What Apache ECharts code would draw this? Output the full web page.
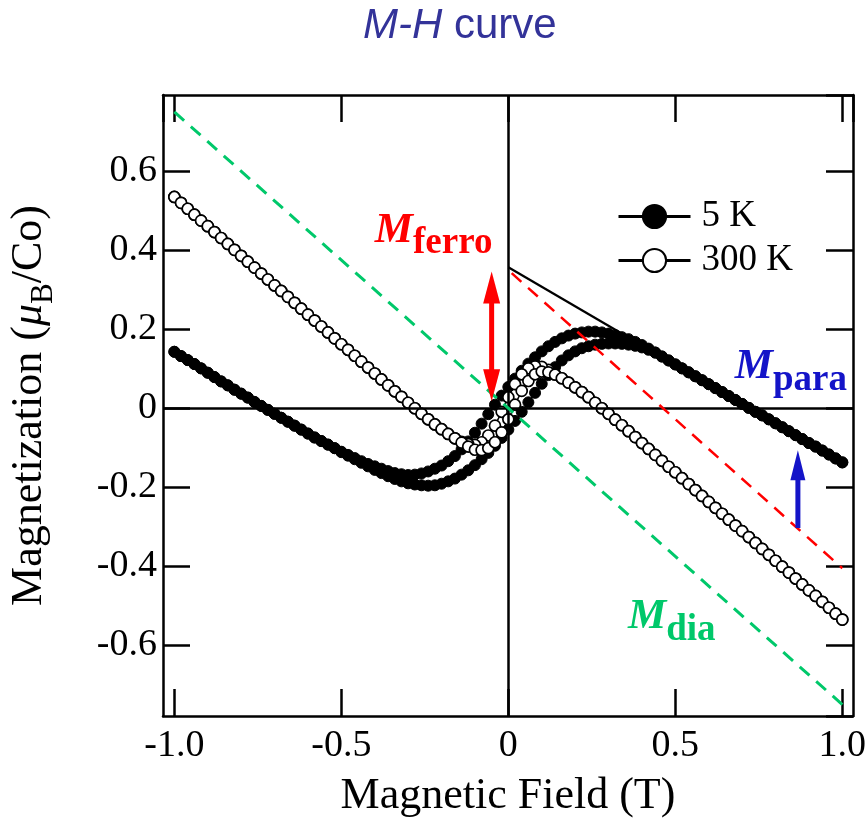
<!DOCTYPE html>
<html>
<head>
<meta charset="utf-8">
<title>M-H curve</title>
<script src="https://cdn.jsdelivr.net/npm/echarts@6/dist/echarts.min.js"></script>
<style>
  html, body { margin: 0; padding: 0; background: #fff; }
  #chart { width: 867px; height: 818px; }
</style>
</head>
<body>
<div id="chart"></div>
<script>
// Magnetic field steps (T), shared by every branch below
const field = [
  -1.00, -0.98, -0.96, -0.94, -0.92, -0.90, -0.88, -0.86, -0.84, -0.82,
  -0.80, -0.78, -0.76, -0.74, -0.72, -0.70, -0.68, -0.66, -0.64, -0.62,
  -0.60, -0.58, -0.56, -0.54, -0.52, -0.50, -0.48, -0.46, -0.44, -0.42,
  -0.40, -0.38, -0.36, -0.34, -0.32, -0.30, -0.28, -0.26, -0.24, -0.22,
  -0.20, -0.18, -0.16, -0.14, -0.12, -0.10, -0.08, -0.06, -0.04, -0.02,
   0.00,  0.02,  0.04,  0.06,  0.08,  0.10,  0.12,  0.14,  0.16,  0.18,
   0.20,  0.22,  0.24,  0.26,  0.28,  0.30,  0.32,  0.34,  0.36,  0.38,
   0.40,  0.42,  0.44,  0.46,  0.48,  0.50,  0.52,  0.54,  0.56,  0.58,
   0.60,  0.62,  0.64,  0.66,  0.68,  0.70,  0.72,  0.74,  0.76,  0.78,
   0.80,  0.82,  0.84,  0.86,  0.88,  0.90,  0.92,  0.94,  0.96,  0.98,
   1.00
];

// 5 K, field sweeping down (+1 T -> -1 T)
const m5Down = [
   0.143,  0.132,  0.122,  0.112,  0.101,  0.090,  0.079,  0.068,  0.058,  0.047,
   0.037,  0.027,  0.016,  0.006, -0.004, -0.014, -0.024, -0.034, -0.044, -0.054,
  -0.064, -0.074, -0.083, -0.092, -0.101, -0.110, -0.118, -0.126, -0.134, -0.141,
  -0.147, -0.153, -0.159, -0.164, -0.167, -0.169, -0.168, -0.165, -0.160, -0.153,
  -0.145, -0.134, -0.121, -0.104, -0.084, -0.062, -0.039, -0.015,  0.009,  0.032,
   0.054,  0.075,  0.095,  0.113,  0.129,  0.144,  0.157,  0.168,  0.177,  0.184,
   0.189,  0.192,  0.194,  0.194,  0.192,  0.189,  0.185,  0.180,  0.175,  0.168,
   0.160,  0.151,  0.141,  0.131,  0.121,  0.111,  0.101,  0.091,  0.081,  0.071,
   0.061,  0.051,  0.041,  0.031,  0.021,  0.011,  0.001, -0.009, -0.018, -0.028,
  -0.038, -0.048, -0.058, -0.068, -0.078, -0.088, -0.097, -0.107, -0.117, -0.127,
  -0.137
];

// 5 K, field sweeping up (-1 T -> +1 T)
const m5Up = [
   0.143,  0.132,  0.122,  0.112,  0.101,  0.090,  0.079,  0.068,  0.058,  0.047,
   0.037,  0.027,  0.016,  0.006, -0.004, -0.014, -0.024, -0.034, -0.044, -0.054,
  -0.064, -0.074, -0.083, -0.092, -0.101, -0.111, -0.120, -0.129, -0.138, -0.147,
  -0.156, -0.164, -0.172, -0.179, -0.185, -0.190, -0.193, -0.195, -0.196, -0.195,
  -0.191, -0.185, -0.178, -0.168, -0.157, -0.144, -0.129, -0.113, -0.095, -0.075,
  -0.054, -0.032, -0.009,  0.015,  0.039,  0.062,  0.084,  0.104,  0.121,  0.134,
   0.144,  0.152,  0.157,  0.161,  0.163,  0.164,  0.164,  0.163,  0.161,  0.158,
   0.154,  0.148,  0.141,  0.131,  0.121,  0.111,  0.101,  0.091,  0.081,  0.071,
   0.061,  0.051,  0.041,  0.031,  0.021,  0.011,  0.001, -0.009, -0.018, -0.028,
  -0.038, -0.048, -0.058, -0.068, -0.078, -0.088, -0.097, -0.107, -0.117, -0.127,
  -0.137
];

// 300 K, field sweeping down
const m300Down = [
   0.535,  0.520,  0.505,  0.490,  0.475,  0.461,  0.446,  0.431,  0.416,  0.401,
   0.386,  0.371,  0.356,  0.341,  0.326,  0.311,  0.297,  0.282,  0.267,  0.252,
   0.237,  0.222,  0.207,  0.192,  0.177,  0.162,  0.148,  0.133,  0.118,  0.103,
   0.088,  0.073,  0.058,  0.043,  0.029,  0.014,  0.000, -0.014, -0.028, -0.041,
  -0.053, -0.065, -0.076, -0.085, -0.091, -0.093, -0.086, -0.069, -0.044, -0.009,
   0.028,  0.061,  0.086,  0.101,  0.106,  0.105,  0.097,  0.087,  0.076,  0.065,
   0.053,  0.041,  0.028,  0.014,  0.000, -0.014, -0.029, -0.043, -0.058, -0.073,
  -0.088, -0.103, -0.118, -0.133, -0.148, -0.162, -0.177, -0.192, -0.207, -0.222,
  -0.237, -0.252, -0.267, -0.282, -0.297, -0.311, -0.326, -0.341, -0.356, -0.371,
  -0.386, -0.401, -0.416, -0.431, -0.446, -0.461, -0.475, -0.490, -0.505, -0.520,
  -0.535
];

// 300 K, field sweeping up
const m300Up = [
   0.535,  0.520,  0.505,  0.490,  0.475,  0.461,  0.446,  0.431,  0.416,  0.401,
   0.386,  0.371,  0.356,  0.341,  0.326,  0.311,  0.297,  0.282,  0.267,  0.252,
   0.237,  0.222,  0.207,  0.192,  0.177,  0.162,  0.148,  0.133,  0.118,  0.103,
   0.088,  0.073,  0.058,  0.043,  0.029,  0.014,  0.000, -0.014, -0.028, -0.041,
  -0.053, -0.065, -0.076, -0.087, -0.097, -0.105, -0.106, -0.101, -0.086, -0.061,
  -0.028,  0.009,  0.044,  0.069,  0.086,  0.093,  0.091,  0.085,  0.076,  0.065,
   0.053,  0.041,  0.028,  0.014,  0.000, -0.014, -0.029, -0.043, -0.058, -0.073,
  -0.088, -0.103, -0.118, -0.133, -0.148, -0.162, -0.177, -0.192, -0.207, -0.222,
  -0.237, -0.252, -0.267, -0.282, -0.297, -0.311, -0.326, -0.341, -0.356, -0.371,
  -0.386, -0.401, -0.416, -0.431, -0.446, -0.461, -0.475, -0.490, -0.505, -0.520,
  -0.535
];

// Guide lines: [H, M] end points
const diaLine = [[-1.0, 0.75], [1.0, -0.75]];
const ferroLine = [[0.01, 0.342], [1.0, -0.405]];
const paraTangent = [[0.0, 0.357], [0.36, 0.179]];

// Arrows: shaft end points, and the centres of the heads
const ferroShaft = [[-0.05, 0.306], [-0.05, 0.058]];
const ferroHeadUp = [-0.05, 0.306];
const ferroHeadDown = [-0.05, 0.058];
const paraShaft = [[0.867, -0.303], [0.867, -0.144]];
const paraHeadUp = [0.867, -0.144];

// Annotation anchors (left end of the "M", on its baseline)
const ferroLabelAt = [-0.400, 0.413];
const paraLabelAt = [0.678, 0.067];
const diaLabelAt = [0.358, -0.566];

const xRange = [-1.034, 1.032];
const yRange = [-0.779, 0.793];

const SERIF = '"Liberation Serif", "Times New Roman", Times, serif';
const SANS = '"Liberation Sans", Arial, Helvetica, sans-serif';
const RED = '#ff0000';
const GREEN = '#00c86a';
const BLUE = '#1414c8';

function loop(down, up) {
  const d = field.map((h, i) => [h, down[i]]).reverse();
  const u = field.map((h, i) => [h, up[i]]);
  return d.concat(u);
}

function tickLabel(step) {
  return function (v) {
    const k = v / step;
    if (Math.abs(k - Math.round(k)) > 1e-6) return '';
    if (Math.abs(v) < 1e-9) return '0';
    return v.toFixed(1);
  };
}

function subLabel(color, sub) {
  return {
    show: true,
    position: 'inside',
    align: 'left',
    verticalAlign: 'bottom',
    offset: [0, 17],
    formatter: '{m|M}{s|' + sub + '}',
    rich: {
      m: { fontFamily: SERIF, fontSize: 43, fontStyle: 'italic', fontWeight: 'bold',
           color: color, lineHeight: 43, padding: [0, 0, 10, 0], verticalAlign: 'bottom' },
      s: { fontFamily: SERIF, fontSize: 37, fontWeight: 'bold',
           color: color, lineHeight: 37, verticalAlign: 'bottom' }
    }
  };
}

function arrow(name, color, shaft, heads, headSize) {
  return [
    {
      name: name + 'Shaft', type: 'line', data: shaft, z: 6, symbol: 'none', silent: true,
      lineStyle: { color: color, width: 5 }
    },
    {
      name: name + 'Head', type: 'scatter', data: heads, z: 6, silent: true,
      symbol: 'triangle', symbolSize: headSize,
      itemStyle: { color: color, opacity: 1 }
    }
  ];
}

const frameTick = { show: true, inside: true, length: 27, lineStyle: { color: '#000', width: 2.5 } };
const frameLine = { show: true, onZero: false, lineStyle: { color: '#000', width: 2.5 } };

const chart = echarts.init(document.getElementById('chart'), null, { renderer: 'canvas' });

chart.setOption({
  animation: false,
  backgroundColor: '#fff',
  title: {
    text: '{i|M-H} curve',
    left: 358,
    top: 0,
    textStyle: {
      fontFamily: SANS, fontSize: 42, fontWeight: 'normal', color: '#333399',
      rich: { i: { fontFamily: SANS, fontSize: 42, fontStyle: 'italic', color: '#333399' } }
    }
  },
  legend: {
    orient: 'vertical',
    left: 612,
    top: 193,
    itemWidth: 72,
    itemHeight: 29,
    itemGap: 7,
    data: ['5 K', '300 K'],
    textStyle: { fontFamily: SERIF, fontSize: 37, color: '#000', lineHeight: 37, padding: [0, 0, 0, 6] },
    lineStyle: { width: 3, color: '#000' }
  },
  grid: { left: 163, top: 95, width: 690, height: 621, containLabel: false, outerBoundsMode: 'none' },
  xAxis: [
    {
      type: 'value', position: 'bottom', min: xRange[0], max: xRange[1], splitNumber: 4,
      axisLine: frameLine, axisTick: frameTick, splitLine: { show: false },
      axisLabel: { margin: 11, fontFamily: SERIF, fontSize: 38, color: '#000',
                   showMinLabel: false, showMaxLabel: false, formatter: tickLabel(0.5) },
      name: 'Magnetic Field (T)', nameLocation: 'middle', nameGap: 58,
      nameTextStyle: { fontFamily: SERIF, fontSize: 44, color: '#000' }
    },
    {
      type: 'value', position: 'top', min: xRange[0], max: xRange[1], splitNumber: 4,
      axisLine: frameLine, axisTick: frameTick, splitLine: { show: false },
      axisLabel: { show: false }
    }
  ],
  yAxis: [
    {
      type: 'value', position: 'left', min: yRange[0], max: yRange[1], splitNumber: 8,
      axisLine: frameLine, axisTick: frameTick, splitLine: { show: false },
      axisLabel: { margin: 6, fontFamily: SERIF, fontSize: 38, color: '#000',
                   showMinLabel: false, showMaxLabel: false, formatter: tickLabel(0.2) },
      name: '{a|Magnetization (}{mu|μ}{b|B}{a|/Co)}',
      nameLocation: 'middle', nameGap: 104, nameRotate: 90,
      nameTextStyle: {
        rich: {
          a: { fontFamily: SERIF, fontSize: 44, color: '#000', lineHeight: 44, padding: [0, 0, 8, 0], verticalAlign: 'bottom' },
          mu: { fontFamily: SERIF, fontSize: 44, fontStyle: 'italic', color: '#000', lineHeight: 44, padding: [0, 0, 8, 0], verticalAlign: 'bottom' },
          b: { fontFamily: SERIF, fontSize: 31, color: '#000', lineHeight: 31, verticalAlign: 'bottom' }
        }
      }
    },
    {
      type: 'value', position: 'right', min: yRange[0], max: yRange[1], splitNumber: 8,
      axisLine: frameLine, axisTick: frameTick, splitLine: { show: false },
      axisLabel: { show: false }
    }
  ],
  series: [
    {
      // zero cross-hairs
      name: 'axes0', type: 'line', data: [], silent: true, z: 1,
      markLine: {
        silent: true, symbol: 'none', label: { show: false },
        lineStyle: { color: '#000', width: 2.5, type: 'solid' },
        data: [{ xAxis: 0 }, { yAxis: 0 }]
      }
    },
    {
      name: '5 K', type: 'line', data: loop(m5Down, m5Up), z: 3,
      symbol: 'circle', symbolSize: 11, showSymbol: true,
      lineStyle: { color: '#000', width: 1.5 },
      itemStyle: { color: '#000', borderColor: '#000', borderWidth: 1 }
    },
    {
      name: '300 K', type: 'line', data: loop(m300Down, m300Up), z: 4,
      symbol: 'circle', symbolSize: 11, showSymbol: true,
      lineStyle: { color: '#000', width: 1.5 },
      itemStyle: { color: '#fff', borderColor: '#000', borderWidth: 1.7 }
    },
    {
      name: 'dia', type: 'line', data: diaLine, z: 5, symbol: 'none', silent: true,
      lineStyle: { color: GREEN, width: 3, type: [13, 9] },
      markPoint: {
        symbolSize: 0, silent: true,
        data: [{ coord: diaLabelAt, label: subLabel(GREEN, 'dia') }]
      }
    },
    {
      name: 'ferro', type: 'line', data: ferroLine, z: 5, symbol: 'none', silent: true,
      lineStyle: { color: RED, width: 2.5, type: [13, 9] },
      markPoint: {
        symbolSize: 0, silent: true,
        data: [{ coord: ferroLabelAt, label: subLabel(RED, 'ferro') }]
      }
    },
    {
      name: 'para', type: 'line', data: paraTangent, z: 5, symbol: 'none', silent: true,
      lineStyle: { color: '#000', width: 2.2 },
      markPoint: {
        symbolSize: 0, silent: true,
        data: [{ coord: paraLabelAt, label: subLabel(BLUE, 'para') }]
      }
    },
    ...arrow('ferro', RED, ferroShaft,
      [{ value: ferroHeadUp }, { value: ferroHeadDown, symbolRotate: 180 }], [17, 32]),
    ...arrow('para', BLUE, paraShaft, [{ value: paraHeadUp }], [15, 30])
  ]
});
</script>
</body>
</html>
